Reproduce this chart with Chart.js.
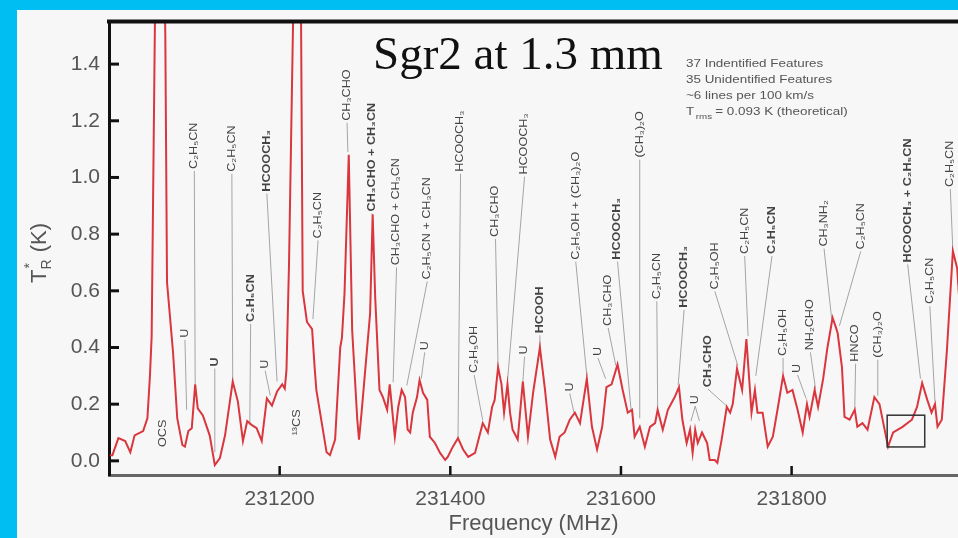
<!DOCTYPE html>
<html>
<head>
<meta charset="utf-8">
<script src="https://cdn.jsdelivr.net/npm/chart.js@4.4.0/dist/chart.umd.min.js"></script>
<style>
html, body { margin: 0; padding: 0; background: #00bdf2; overflow: hidden; }
#panel { position: absolute; left: 17px; top: 10px; width: 941px; height: 528px; background: #f7f7f7; }
#wrap { position: absolute; left: 0; top: 0; width: 958px; height: 538px; }
</style>
</head>
<body>
<div id="panel"></div>
<div id="wrap"><canvas id="chart" width="958" height="538"></canvas></div>
<script>
// ---------------- DATA ----------------
const freq = [
  231001, 231004, 231011, 231019, 231025, 231030, 231040, 231045, 231048, 231050,
  231054, 231060, 231066, 231068, 231075, 231080, 231086, 231089, 231093, 231097,
  231101, 231104, 231110, 231118, 231124, 231130, 231136, 231145, 231151, 231157,
  231162, 231168, 231173, 231179, 231185, 231191, 231197, 231203, 231206, 231208,
  231211, 231216, 231220, 231225, 231227, 231232, 231238, 231241, 231243, 231255,
  231259, 231265, 231271, 231273, 231276, 231281, 231285, 231291, 231293, 231296,
  231302, 231306, 231309, 231312, 231317, 231321, 231326, 231329, 231333, 231335,
  231339, 231343, 231347, 231350, 231353, 231356, 231361, 231364, 231368, 231373,
  231376, 231382, 231388, 231394, 231397, 231403, 231409, 231415, 231421, 231429,
  231432, 231438, 231444, 231449, 231452, 231456, 231460, 231463, 231467, 231470,
  231473, 231479, 231485, 231491, 231497, 231505, 231511, 231517, 231523, 231528,
  231534, 231540, 231546, 231552, 231560, 231566, 231572, 231578, 231583, 231589,
  231596, 231602, 231608, 231613, 231616, 231622, 231628, 231634, 231640, 231643,
  231649, 231655, 231663, 231668, 231672, 231677, 231681, 231684, 231687, 231690,
  231695, 231701, 231704, 231710, 231713, 231718, 231724, 231728, 231731, 231736,
  231742, 231747, 231753, 231757, 231760, 231766, 231772, 231778, 231784, 231790,
  231795, 231801, 231807, 231813, 231818, 231821, 231827, 231831, 231837, 231842,
  231848, 231852, 231854, 231859, 231862, 231868, 231874, 231877, 231883, 231889,
  231897, 231903, 231909, 231913, 231919, 231930, 231941, 231947, 231953, 231959,
  231964, 231968, 231971, 231976, 231982, 231989, 231994, 231998
];
const temp = [
  0.02, 0.02, 0.08, 0.07, 0.03, 0.09, 0.105, 0.15, 0.3, 0.44,
  1.6, 2.8, 1.5, 0.63, 0.385, 0.15, 0.056, 0.05, 0.105, 0.115,
  0.27, 0.185, 0.16, 0.09, -0.015, 0.01, 0.09, 0.28, 0.21, 0.07,
  0.14, 0.125, 0.115, 0.07, 0.22, 0.195, 0.245, 0.27, 0.255, 0.32,
  0.7, 1.6, 3.0, 1.6, 0.6, 0.49, 0.465, 0.33, 0.25, 0.03,
  0.02, 0.075, 0.4, 0.435, 0.59, 1.08, 0.46, 0.145, 0.075, 0.17,
  0.38, 0.52, 0.87, 0.575, 0.25, 0.225, 0.18, 0.27, 0.145, 0.085,
  0.19, 0.25, 0.225, 0.11, 0.1, 0.17, 0.225, 0.285, 0.24, 0.215,
  0.085, 0.063, 0.028, 0.003, 0.014, 0.05, 0.08, 0.04, 0.014, 0.028,
  0.063, 0.133, 0.1, 0.19, 0.215, 0.33, 0.27, 0.17, 0.27, 0.17,
  0.11, 0.075, 0.28, 0.085, 0.24, 0.4, 0.25, 0.075, 0.014, 0.085,
  0.1, 0.145, 0.17, 0.133, 0.29, 0.12, 0.04, 0.12, 0.26, 0.27,
  0.34, 0.25, 0.17, 0.18, 0.085, 0.12, 0.05, 0.12, 0.133, 0.18,
  0.11, 0.18, 0.225, 0.26, 0.145, 0.063, 0.11, 0.028, 0.11, 0.063,
  0.1, 0.063, 0.003, 0.003, -0.007, 0.075, 0.19, 0.17, 0.2, 0.325,
  0.25, 0.43, 0.17, 0.25, 0.17, 0.17, 0.05, 0.085, 0.19, 0.3,
  0.24, 0.25, 0.18, 0.1, 0.2, 0.155, 0.25, 0.19, 0.29, 0.4,
  0.505, 0.47, 0.45, 0.33, 0.155, 0.145, 0.18, 0.12, 0.133, 0.11,
  0.225, 0.2, 0.11, 0.05, 0.1, 0.12, 0.145, 0.19, 0.275, 0.215,
  0.17, 0.2, 0.12, 0.145, 0.39, 0.74, 0.68, 0.5
];

const xTicks = [231200, 231400, 231600, 231800];
const yTicks = [0.0, 0.2, 0.4, 0.6, 0.8, 1.0, 1.2, 1.4];

// line identifications: text start (freq, T) and leader end (freq, T)
const labelText = [
  "OCS", "U", "C₂H₅CN", "U", "C₂H₅CN", "HCOOCH₃", "C₂H₅CN", "U", "¹³CS", "C₂H₅CN",
  "CH₃CHO", "CH₃CHO + CH₃CN", "CH₃CHO + CH₃CN", "C₂H₅CN + CH₃CN", "U", "HCOOCH₃", "C₂H₅OH", "CH₃CHO", "HCOOCH₃", "U",
  "HCOOH", "C₂H₅OH + (CH₃)₂O", "U", "HCOOCH₃", "U", "CH₃CHO", "(CH₃)₂O", "C₂H₅CN", "HCOOCH₃", "C₂H₅OH",
  "CH₃CHO", "U", "", "C₂H₅CN", "C₂H₅CN", "CH₃NH₂", "C₂H₅CN", "C₂H₅OH", "U", "NH₂CHO",
  "HNCO", "(CH₃)₂O", "HCOOCH₃ + C₂H₅CN", "C₂H₅CN", "C₂H₅CN"
];
const labelFreq = [
  231063, 231089, 231100, 231124, 231144, 231185, 231166, 231183, 231220, 231245,
  231279, 231308, 231337, 231373, 231370, 231412, 231428, 231453, 231487, 231487,
  231505, 231547, 231540, 231596, 231573, 231585, 231622, 231642, 231674, 231710,
  231702, 231687, 231687, 231745, 231777, 231838, 231881, 231790, 231807, 231822,
  231875, 231901, 231936, 231962, 231986
];
const labelTemp = [
  0.049, 0.434, 1.03, 0.333, 1.02, 0.95, 0.49, 0.325, 0.09, 0.785,
  1.2, 0.88, 0.69, 0.64, 0.39, 1.02, 0.31, 0.79, 1.01, 0.375,
  0.45, 0.71, 0.245, 0.71, 0.37, 0.476, 1.07, 0.57, 0.54, 0.605,
  0.26, 0.2, 0.2, 0.73, 0.73, 0.756, 0.746, 0.37, 0.31, 0.39,
  0.35, 0.364, 0.7, 0.553, 0.966
];
const leadFreq = [
  null, 231091, 231101, 231124, 231145, 231197, 231165, 231189, null, 231239,
  231280, 231308, 231333, 231349, 231366, 231409, 231438, 231456, 231467, 231485,
  231505, 231560, 231545, 231612, 231582, 231594, 231622, 231643, 231667, 231737,
  231723, 231682, 231692, 231749, 231758, 231847, 231856, 231790, 231817, 231828,
  231874, 231901, 231951, 231968, 231989
];
const leadTemp = [
  null, 0.18, 0.27, 0.03, 0.28, 0.28, 0.125, 0.23, null, 0.5,
  1.09, 0.87, 0.277, 0.266, 0.29, 0.08, 0.143, 0.33, 0.28, 0.277,
  0.4, 0.3, 0.17, 0.175, 0.29, 0.336, 0.15, 0.186, 0.266, 0.336,
  0.196, 0.14, 0.14, 0.44, 0.3, 0.5, 0.476, 0.31, 0.22, 0.255,
  0.186, 0.23, 0.29, 0.21, 0.74
];
const labelBold = [
  0, 0, 0, 1, 0, 1, 1, 0, 0, 0,
  0, 1, 0, 0, 0, 0, 0, 0, 0, 0,
  1, 0, 0, 1, 0, 0, 0, 0, 1, 0,
  1, 0, 0, 0, 1, 0, 0, 0, 0, 0,
  0, 0, 1, 0, 0
];

// highlighted region box
const boxFreq = [231912, 231956];
const boxTemp = [0.049, 0.161];

const notes = [
  "37 Indentified Features",
  "35 Unidentified Features",
  "~6 lines per 100 km/s"
];

const SANS = '"Liberation Sans", Arial, sans-serif';

// ---------------- DECORATION PLUGIN ----------------
const decor = {
  id: "decor",
  beforeDatasetsDraw(chart) {
    const { ctx, scales: { x, y } } = chart;
    ctx.save();
    ctx.strokeStyle = "#a4a4a4";
    ctx.lineWidth = 1;
    labelText.forEach((t, i) => {
      if (leadFreq[i] === null) return;
      ctx.beginPath();
      ctx.moveTo(x.getPixelForValue(labelFreq[i]), y.getPixelForValue(labelTemp[i]) + 2);
      ctx.lineTo(x.getPixelForValue(leadFreq[i]), y.getPixelForValue(leadTemp[i]));
      ctx.stroke();
    });
    ctx.restore();
  },
  afterDatasetsDraw(chart) {
    const { ctx, scales: { x, y } } = chart;
    ctx.save();
    labelText.forEach((t, i) => {
      if (!t) return;
      ctx.save();
      ctx.translate(x.getPixelForValue(labelFreq[i]), y.getPixelForValue(labelTemp[i]));
      ctx.rotate(-Math.PI / 2);
      ctx.scale(1.2, 1);
      ctx.font = (labelBold[i] ? "bold " : "") + "10.5px " + SANS;
      ctx.fillStyle = "#444";
      ctx.textAlign = "left";
      ctx.textBaseline = "middle";
      ctx.fillText(t, 0, 0);
      ctx.restore();
    });
    // box
    ctx.strokeStyle = "#333";
    ctx.lineWidth = 1.5;
    const bx0 = x.getPixelForValue(boxFreq[0]), bx1 = x.getPixelForValue(boxFreq[1]);
    const by0 = y.getPixelForValue(boxTemp[1]), by1 = y.getPixelForValue(boxTemp[0]);
    ctx.strokeRect(bx0, by0, bx1 - bx0, by1 - by0);
    ctx.restore();
  },
  afterDraw(chart) {
    const { ctx, chartArea: a, scales: { x, y } } = chart;
    ctx.save();
    // top frame line
    ctx.strokeStyle = "#111";
    ctx.lineWidth = 4;
    ctx.beginPath();
    ctx.moveTo(a.left - 2, a.top);
    ctx.lineTo(a.right, a.top);
    ctx.stroke();
    // inner tick marks
    ctx.lineWidth = 3;
    yTicks.forEach(v => {
      const py = y.getPixelForValue(v);
      ctx.beginPath();
      ctx.moveTo(a.left, py);
      ctx.lineTo(a.left + 10, py);
      ctx.stroke();
    });
    ctx.lineWidth = 2.5;
    xTicks.forEach(v => {
      const px = x.getPixelForValue(v);
      ctx.beginPath();
      ctx.moveTo(px, a.bottom);
      ctx.lineTo(px, a.bottom - 9);
      ctx.stroke();
    });
    // title
    ctx.fillStyle = "#111";
    ctx.font = '47px "Liberation Serif", "Times New Roman", serif';
    ctx.textAlign = "left";
    ctx.textBaseline = "alphabetic";
    ctx.fillText("Sgr2 at 1.3 mm", 373, 69);
    // notes
    ctx.fillStyle = "#555";
    ctx.font = "11px " + SANS;
    notes.forEach((n, i) => {
      ctx.save();
      ctx.translate(686, 67 + i * 16);
      ctx.scale(1.22, 1);
      ctx.fillText(n, 0, 0);
      ctx.restore();
    });
    ctx.save();
    ctx.translate(686, 115);
    ctx.scale(1.22, 1);
    ctx.fillText("T", 0, 0);
    ctx.font = "8px " + SANS;
    ctx.fillText("rms", 8, 4);
    ctx.font = "11px " + SANS;
    ctx.fillText("= 0.093 K (theoretical)", 24, 0);
    ctx.restore();
    // y axis title
    ctx.save();
    ctx.translate(46, 283);
    ctx.rotate(-Math.PI / 2);
    ctx.fillStyle = "#555";
    ctx.font = "22px " + SANS;
    ctx.fillText("T", 0, 0);
    const wT = ctx.measureText("T").width;
    ctx.font = "14px " + SANS;
    ctx.fillText("R", wT, 5);
    ctx.fillText("*", wT + 1, -12);
    const wR = ctx.measureText("R").width;
    ctx.font = "22px " + SANS;
    ctx.fillText(" (K)", wT + wR + 1, 0);
    ctx.restore();
    ctx.restore();
  }
};

// ---------------- CHART ----------------
new Chart(document.getElementById("chart"), {
  type: "line",
  data: {
    datasets: [{
      data: freq.map((f, i) => ({ x: f, y: temp[i] })),
      borderColor: "#d9363e",
      borderWidth: 2,
      pointRadius: 0,
      tension: 0
    }]
  },
  options: {
    responsive: false,
    animation: false,
    layout: { padding: { top: 19, right: 0, left: 0, bottom: 0 } },
    plugins: { legend: { display: false }, tooltip: { enabled: false } },
    scales: {
      x: {
        type: "linear",
        min: 231000,
        max: 231995,
        afterFit: s => { s.height = 63; },
        afterBuildTicks: s => { s.ticks = xTicks.map(v => ({ value: v })); },
        grid: { display: false, drawTicks: false },
        border: { color: "#666", width: 3 },
        ticks: { color: "#555", font: { size: 21, family: SANS }, padding: 12, maxRotation: 0, callback: v => String(v) },
        title: { display: true, text: "Frequency (MHz)", color: "#555", font: { size: 22, family: SANS }, padding: { top: 0, bottom: 1 } }
      },
      y: {
        min: -0.05,
        max: 1.55,
        afterFit: s => { s.width = 109; },
        afterBuildTicks: s => { s.ticks = yTicks.map(v => ({ value: v })); },
        grid: { display: false, drawTicks: false },
        border: { color: "#111", width: 3 },
        ticks: { color: "#555", font: { size: 21, family: SANS }, padding: 9, callback: v => v.toFixed(1) }
      }
    }
  },
  plugins: [decor]
});
</script>
</body>
</html>
